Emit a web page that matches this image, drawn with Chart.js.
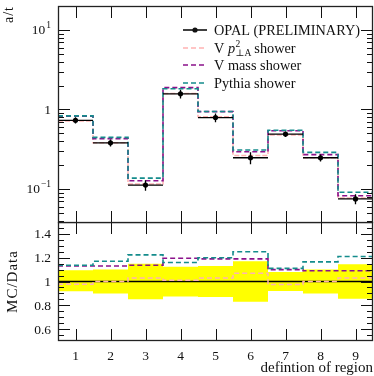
<!DOCTYPE html>
<html><head><meta charset="utf-8">
<script src="https://cdn.jsdelivr.net/npm/chart.js@4"></script>
<style>
html,body{margin:0;padding:0;background:#fff;width:374px;height:376px;overflow:hidden}
canvas{position:absolute;left:0}
#cTop{top:0}
#cBot{top:222px}
</style></head>
<body>
<canvas id="cTop" width="374" height="224"></canvas>
<canvas id="cBot" width="374" height="154"></canvas>
<script>
// ---- data ----
const regions=[1,2,3,4,5,6,7,8,9];
const opal=[0.73,0.38,0.112,1.57,0.79,0.247,0.49,0.247,0.075];
const opalErr=[0.066,0.038,0.017,0.196,0.10,0.042,0.039,0.025,0.011];
const vpt=[0.713,0.38,0.115,1.59,0.81,0.264,0.478,0.247,0.077];
const vmass=[0.825,0.43,0.127,1.88,0.94,0.294,0.54,0.27,0.082];
const pythia=[0.83,0.445,0.137,1.82,0.943,0.309,0.548,0.288,0.091];
const ratioVpt=[0.977,1.0,1.03,1.01,1.03,1.07,0.975,1.0,1.03];
const ratioVmass=[1.13,1.13,1.136,1.196,1.19,1.19,1.10,1.09,1.09];
const ratioPythia=[1.136,1.17,1.224,1.16,1.20,1.25,1.11,1.165,1.21];
const bandUp=[1.094,1.10,1.15,1.125,1.13,1.17,1.08,1.10,1.145];
const bandDn=[0.918,0.90,0.85,0.875,0.87,0.83,0.92,0.90,0.855];
const xTickLabels=['1','2','3','4','5','6','7','8','9'];
const yTopMajor=[0.1,1,10];
const yTopLabels=[['10','\u22121'],['1',''],['10','1']];
const yBotMajor=[0.6,0.8,1,1.2,1.4];
const yBotLabels=['0.6','0.8','1','1.2','1.4'];
const legendLabels=['OPAL (PRELIMINARY)','V mass shower','Pythia shower'];

const SERIF='"Liberation Serif","DejaVu Serif",serif';
const PINK='#ffb3b3', PURPLE='#8b128b', TEAL='#148c8c';

function steps(vals){
  const pts=vals.map((v,i)=>({x:regions[i]-0.5,y:v}));
  pts.push({x:regions[regions.length-1]+0.5,y:vals[vals.length-1]});
  return pts;
}
function stepDs(vals,color,dash,width,order){
  return {type:'line',data:steps(vals),stepped:'before',borderColor:color,borderWidth:width||1.5,
    borderDash:dash||[],pointRadius:0,fill:false,tension:0,order:order};
}

function drawFrameTicks(chart, ymaj, yminor){
  const ctx=chart.ctx, a=chart.chartArea, xs=chart.scales.x, ys=chart.scales.y;
  ctx.save();
  ctx.strokeStyle='#111'; ctx.lineWidth=1;
  regions.forEach(r=>{
    const px=Math.round(xs.getPixelForValue(r))+0.5;
    ctx.beginPath();ctx.moveTo(px,a.top);ctx.lineTo(px,a.top+12);
    ctx.moveTo(px,a.bottom);ctx.lineTo(px,a.bottom-12);ctx.stroke();
  });
  const tick=(v,len)=>{
    const py=Math.round(ys.getPixelForValue(v))+0.5;
    if(py<a.top-0.5||py>a.bottom+0.5) return;
    ctx.beginPath();ctx.moveTo(a.left,py);ctx.lineTo(a.left+len,py);
    ctx.moveTo(a.right,py);ctx.lineTo(a.right-len,py);ctx.stroke();
  };
  ymaj.forEach(v=>tick(v,12));
  yminor.forEach(v=>tick(v,6));
  ctx.lineWidth=1.3; ctx.strokeStyle='#222';
  ctx.strokeRect(a.left+0.5,a.top+0.5,a.right-a.left-1,a.bottom-a.top-1);
  ctx.restore();
}

// ---- top chart ----
const topPlugin={
  id:'topDeco',
  afterDatasetsDraw(chart){
    const ctx=chart.ctx, xs=chart.scales.x, ys=chart.scales.y;
    ctx.save(); ctx.strokeStyle='#000'; ctx.lineWidth=1.3;
    opal.forEach((v,i)=>{
      const x0=xs.getPixelForValue(regions[i]-0.5), x1=xs.getPixelForValue(regions[i]+0.5);
      const xc=xs.getPixelForValue(regions[i]);
      const y=ys.getPixelForValue(v);
      ctx.beginPath();ctx.moveTo(x0,y);ctx.lineTo(x1,y);
      ctx.moveTo(xc,ys.getPixelForValue(v-opalErr[i]));ctx.lineTo(xc,ys.getPixelForValue(v+opalErr[i]));
      ctx.stroke();
      ctx.beginPath();ctx.arc(xc,y,2.6,0,Math.PI*2);ctx.fillStyle='#000';ctx.fill();
    });
    ctx.restore();
  },
  afterDraw(chart){
    const ctx=chart.ctx, ys=chart.scales.y;
    const minor=[];
    for(let n=-2;n<=1;n++) for(let m=2;m<=9;m++) minor.push(m*Math.pow(10,n));
    drawFrameTicks(chart, yTopMajor, minor);
    ctx.save(); ctx.fillStyle='#111'; ctx.textBaseline='middle';
    yTopMajor.forEach((v,i)=>{
      const py=ys.getPixelForValue(v);
      const [base,sup]=yTopLabels[i];
      const rightX=51;
      let supW=0;
      if(sup){ctx.font='9.5px '+SERIF; supW=ctx.measureText(sup).width;}
      ctx.font='13.5px '+SERIF;
      const bw=ctx.measureText(base).width;
      ctx.textAlign='left';
      ctx.fillText(base,rightX-supW-bw-(sup?1:0),py+1);
      if(sup){ctx.font='9.5px '+SERIF; ctx.fillText(sup,rightX-supW,py-4);}
    });
    ctx.save(); ctx.translate(13,6); ctx.rotate(-Math.PI/2);
    ctx.font='14px '+SERIF; ctx.letterSpacing='1px'; ctx.textAlign='right'; ctx.textBaseline='alphabetic';
    ctx.fillText('a/t',0,0); ctx.restore();
    // legend
    const lx0=183, lx1=207, tx=214, rows=[30,48,65,83];
    ctx.lineWidth=1.5;
    ctx.strokeStyle='#000'; ctx.setLineDash([]);
    ctx.beginPath();ctx.moveTo(lx0,rows[0]);ctx.lineTo(lx1,rows[0]);ctx.stroke();
    ctx.beginPath();ctx.arc((lx0+lx1)/2,rows[0],2.6,0,Math.PI*2);ctx.fill();
    const cols=[null,PINK,PURPLE,TEAL];
    for(let k=1;k<4;k++){
      ctx.strokeStyle=cols[k]; ctx.setLineDash([5,3]);
      ctx.beginPath();ctx.moveTo(lx0,rows[k]);ctx.lineTo(lx1,rows[k]);ctx.stroke();
    }
    ctx.setLineDash([]);
    ctx.fillStyle='#111'; ctx.textAlign='left'; ctx.textBaseline='middle';
    const F='14.3px '+SERIF;
    ctx.font=F;
    ctx.fillText(legendLabels[0],tx,rows[0]+1);
    let x=tx;
    ctx.fillText('V ',x,rows[1]+1); x+=ctx.measureText('V ').width;
    ctx.font='italic 14.3px '+SERIF; ctx.fillText('p',x,rows[1]+1); x+=ctx.measureText('p').width+0.5;
    ctx.font='9.5px '+SERIF; ctx.fillText('2',x,rows[1]-4);
    ctx.fillText('\u22a5A',x,rows[1]+5);
    x+=ctx.measureText('\u22a5A').width+3;
    ctx.font=F; ctx.fillText('shower',x,rows[1]+1);
    ctx.fillText(legendLabels[1],tx,rows[2]+1);
    ctx.fillText(legendLabels[2],tx,rows[3]+1);
    ctx.restore();
  }
};

new Chart(document.getElementById('cTop'),{
  data:{datasets:[
    stepDs(vpt,PINK,[5,2],1.5,3),
    stepDs(vmass,PURPLE,[5,3],1.6,2),
    stepDs(pythia,TEAL,[5,3],1.6,1)
  ]},
  options:{
    responsive:false,animation:false,devicePixelRatio:1,
    layout:{padding:{left:58,right:1,top:6,bottom:1}},
    plugins:{legend:{display:false},tooltip:{enabled:false}},
    scales:{
      x:{type:'linear',min:0.5,max:9.5,display:false},
      y:{type:'logarithmic',min:0.0373,max:20,display:false}
    }
  },
  plugins:[topPlugin]
});

// ---- bottom (ratio) chart ----
const botPlugin={
  id:'botDeco',
  afterDraw(chart){
    const ctx=chart.ctx, a=chart.chartArea, xs=chart.scales.x, ys=chart.scales.y;
    const minor=[];
    for(let k=11;k<30;k++){ if(k%4!==0) minor.push(k*0.05); }
    drawFrameTicks(chart, yBotMajor, minor);
    ctx.save(); ctx.fillStyle='#111';
    ctx.font='13.5px '+SERIF; ctx.textAlign='right'; ctx.textBaseline='middle';
    yBotMajor.forEach((v,i)=>ctx.fillText(yBotLabels[i],51,ys.getPixelForValue(v)+1));
    ctx.textAlign='center'; ctx.textBaseline='top';
    regions.forEach((r,i)=>ctx.fillText(xTickLabels[i],xs.getPixelForValue(r),a.bottom+9));
    ctx.font='15px '+SERIF; ctx.textAlign='right'; ctx.textBaseline='alphabetic';
    ctx.fillText('defintion of region',a.right,a.bottom+31);
    ctx.save(); ctx.translate(17,ys.getPixelForValue(1)); ctx.rotate(-Math.PI/2);
    ctx.textAlign='center'; ctx.font='15px '+SERIF; ctx.letterSpacing='1px'; ctx.fillText('MC/Data',0,0); ctx.restore();
    ctx.restore();
  }
};

new Chart(document.getElementById('cBot'),{
  data:{datasets:[
    {type:'line',data:steps(bandDn),stepped:'before',borderWidth:0,borderColor:'rgba(0,0,0,0)',pointRadius:0,fill:false,order:11},
    {type:'line',data:steps(bandUp),stepped:'before',borderWidth:0,borderColor:'rgba(0,0,0,0)',pointRadius:0,fill:'-1',backgroundColor:'#ffff00',order:10},
    {type:'line',data:[{x:0.5,y:1},{x:9.5,y:1}],borderColor:'#000',borderWidth:1.4,pointRadius:0,fill:false,order:5},
    stepDs(ratioVpt,PINK,[5,3],1.5,3),
    stepDs(ratioVmass,PURPLE,[5,3],1.6,2),
    stepDs(ratioPythia,TEAL,[5,3],1.6,1)
  ]},
  options:{
    responsive:false,animation:false,devicePixelRatio:1,
    layout:{padding:{left:58,right:1,top:0,bottom:35}},
    plugins:{legend:{display:false},tooltip:{enabled:false}},
    scales:{
      x:{type:'linear',min:0.5,max:9.5,display:false},
      y:{type:'linear',min:0.5,max:1.5,display:false}
    }
  },
  plugins:[botPlugin]
});
</script>
</body></html>
